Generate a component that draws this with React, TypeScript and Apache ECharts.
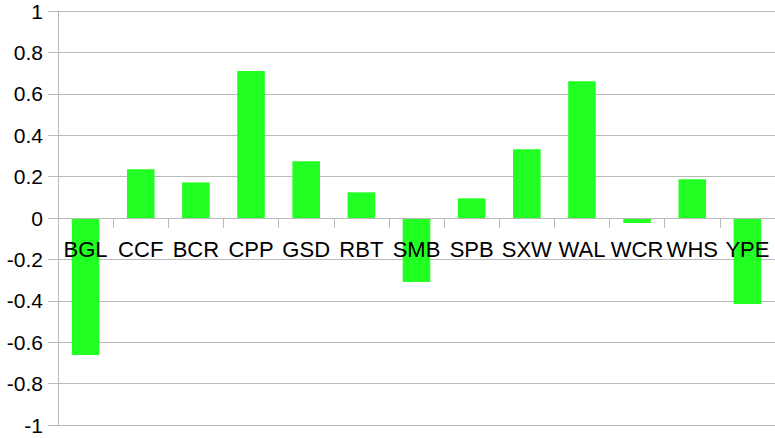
import React, { useEffect, useRef } from "react";
import * as echarts from "echarts";

const categories = ["BGL", "CCF", "BCR", "CPP", "GSD", "RBT", "SMB", "SPB", "SXW", "WAL", "WCR", "WHS", "YPE"];
const values = [-0.662, 0.235, 0.172, 0.71, 0.274, 0.124, -0.309, 0.095, 0.332, 0.661, -0.024, 0.187, -0.415];
const yMin = -1;
const yMax = 1;
const yInterval = 0.2;

export default function App() {
  const ref = useRef<HTMLDivElement>(null);
  useEffect(() => {
    if (!ref.current) return;
    const chart = echarts.init(ref.current, undefined, { renderer: "svg" });
    const lineColor = "#b9b9b9";
    const gridTop = 11;
    const gridBottom = 13;
    const plotH = 438 - gridTop - gridBottom;
    chart.setOption({
      animation: false,
      backgroundColor: "#ffffff",
      textStyle: { fontFamily: "Liberation Sans", fontSize: 21 },
      grid: { left: 58, right: 0, top: gridTop, bottom: gridBottom, containLabel: false, outerBoundsMode: "none" },
      xAxis: {
        type: "category",
        data: categories,
        z: 10,
        offset: -plotH / 2,
        axisLine: { onZero: false, lineStyle: { color: lineColor, width: 1 } },
        axisTick: { show: true, length: 10, inside: false, lineStyle: { color: lineColor } },
        axisLabel: {
          margin: 20,
          color: "#000000",
          fontFamily: "Liberation Sans",
          fontSize: 22,
          interval: 0,
          hideOverlap: false,
        },
        splitLine: { show: false },
      },
      yAxis: {
        type: "value",
        min: yMin,
        max: yMax,
        interval: yInterval,
        axisLine: { show: true, lineStyle: { color: lineColor, width: 1 } },
        axisTick: { show: true, length: 10, inside: false, lineStyle: { color: lineColor } },
        axisLabel: {
          margin: 15,
          color: "#000000",
          fontFamily: "Liberation Sans",
          fontSize: 21,
          formatter: (v: number) => String(Math.round(v * 10) / 10),
        },
        splitLine: { show: true, lineStyle: { color: lineColor, width: 1 } },
      },
      series: [
        {
          type: "bar",
          data: values,
          barWidth: "50%",
          itemStyle: { color: "#22ff22" },
        },
      ],
    });
    return () => chart.dispose();
  }, []);
  return (
    <div
      ref={ref}
      style={{ position: "fixed", left: 0, top: 0, width: 775, height: 438, background: "#fff" }}
    />
  );
}
